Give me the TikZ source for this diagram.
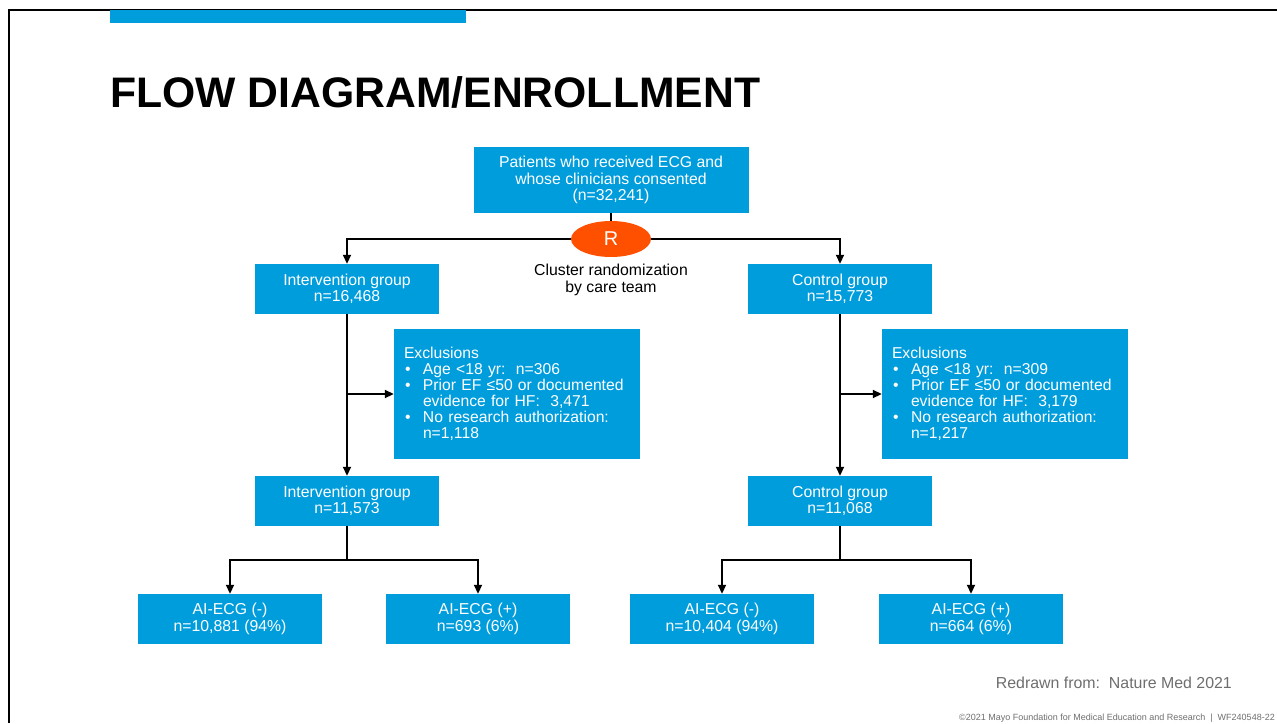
\documentclass[tikz,border=0pt]{standalone}
\usepackage{fontspec}
\setmainfont{Liberation Sans}
\usetikzlibrary{arrows.meta,positioning,shapes.geometric}
\definecolor{mayoblue}{RGB}{0,157,221}
\definecolor{randorange}{RGB}{255,80,0}
\definecolor{notegray}{RGB}{110,110,110}
\tikzset{
  flowbox/.style={fill=mayoblue,draw=none,text=white,inner sep=0pt,align=center,
    minimum width=184pt,minimum height=50pt,font=\fontsize{15.8}{16.5}\selectfont},
  exclbox/.style={fill=mayoblue,draw=none,text=white,inner sep=0pt,align=left,
    minimum width=246pt,minimum height=130pt,text width=226pt,font=\fontsize{15.7}{16}\selectfont},
  link/.style={draw=black,line width=1.8pt},
  linkarr/.style={link,-{Triangle[length=9pt,width=8pt]}},
}
\newcommand{\bul}{\makebox[19pt][l]{\hspace{1pt}\textbullet}}
\newcommand{\cont}{\hspace*{19pt}}
\begin{document}
\begin{tikzpicture}[x=1pt,y=-1pt]
\path[use as bounding box] (0,0) rectangle (1277,723);
% slide frame and header
\draw[line width=2pt] (9,723) -- (9,10) -- (1277,10);
\fill[mayoblue] (110,10) rectangle (466,23);
\node[anchor=base west,inner sep=0pt,font=\bfseries\fontsize{42.7}{48}\selectfont] (title) at (110,107) {FLOW DIAGRAM/ENROLLMENT};
% top of the flow
\node[flowbox,minimum width=275pt,minimum height=66pt] (pat) at (611,180) {Patients who received ECG and\\whose clinicians consented\\(n=32,241)};
\node[ellipse,fill=randorange,text=white,inner sep=0pt,minimum width=80pt,minimum height=36pt,font=\fontsize{20}{22}\selectfont] (rand) at (611,239) {R};
\node[align=center,inner sep=0pt,font=\fontsize{15.8}{16.5}\selectfont] (randlbl) at (611,280) {Cluster randomization\\by care team};
% arms
\node[flowbox] (int1) at (347,289) {Intervention group\\n=16,468};
\node[flowbox] (ctl1) at (840,289) {Control group\\n=15,773};
\node[exclbox] (exc1) at (517,394) {Exclusions\\
\bul Age <18 yr:\ \ n=306\\
\bul Prior EF ≤50 or documented\\
\cont evidence for HF:\ \ 3,471\\
\bul No research authorization:\\
\cont n=1,118};
\node[exclbox] (exc2) at (1005,394) {Exclusions\\
\bul Age <18 yr:\ \ n=309\\
\bul Prior EF ≤50 or documented\\
\cont evidence for HF:\ \ 3,179\\
\bul No research authorization:\\
\cont n=1,217};
\node[flowbox] (int2) at (347,501) {Intervention group\\n=11,573};
\node[flowbox] (ctl2) at (840,501) {Control group\\n=11,068};
% AI-ECG results
\node[flowbox] (neg1) at (230,619) {AI-ECG (-)\\n=10,881 (94\%)};
\node[flowbox] (pos1) at (478,619) {AI-ECG (+)\\n=693 (6\%)};
\node[flowbox] (neg2) at (722,619) {AI-ECG (-)\\n=10,404 (94\%)};
\node[flowbox] (pos2) at (971,619) {AI-ECG (+)\\n=664 (6\%)};
\coordinate (split1) at (347,560);
\coordinate (split2) at (840,560);
% connectors
\draw[link] (pat.south) -- (rand.north);
\draw[linkarr] (rand.west) -| (int1.north);
\draw[linkarr] (rand.east) -| (ctl1.north);
\draw[linkarr] (int1.south) -- (int2.north);
\draw[linkarr] (ctl1.south) -- (ctl2.north);
\draw[linkarr] (int1.south |- exc1.west) -- (exc1.west);
\draw[linkarr] (ctl1.south |- exc2.west) -- (exc2.west);
\draw[link] (int2.south) -- (split1);
\draw[link] (ctl2.south) -- (split2);
\draw[linkarr] (split1) -| (neg1.north);
\draw[linkarr] (split1) -| (pos1.north);
\draw[linkarr] (split2) -| (neg2.north);
\draw[linkarr] (split2) -| (pos2.north);
% footer
\node[anchor=base east,inner sep=0pt,text=notegray,font=\fontsize{15.9}{18}\selectfont] (src) at (1232,688) {Redrawn from:\ \ Nature Med 2021};
\node[anchor=base east,inner sep=0pt,text=notegray,font=\fontsize{9}{10}\selectfont] (copy) at (1275,720) {©2021 Mayo Foundation for Medical Education and Research\ \ |\ \ WF240548-22};
\end{tikzpicture}
\end{document}
